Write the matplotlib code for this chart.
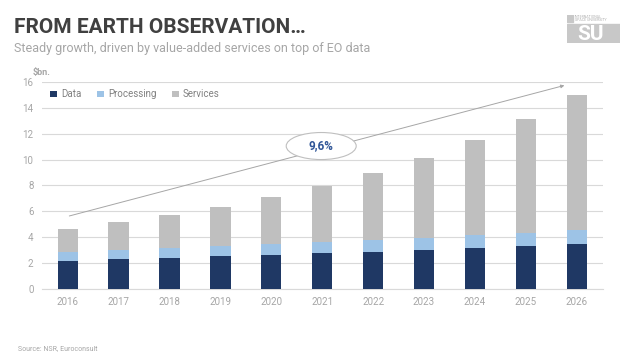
import numpy as np
import matplotlib
matplotlib.use("Agg")
import matplotlib.pyplot as plt
from matplotlib.patches import Ellipse, Rectangle

plt.rcParams['font.family'] = ['Roboto', 'DejaVu Sans']

# values ($bn.)
years = ['2016', '2017', '2018', '2019', '2020', '2021', '2022', '2023', '2024', '2025', '2026']
data = [2.19, 2.32, 2.42, 2.52, 2.65, 2.76, 2.88, 3.04, 3.19, 3.35, 3.50]
processing = [0.64, 0.69, 0.72, 0.78, 0.80, 0.85, 0.91, 0.93, 0.96, 0.98, 1.03]
services = [1.81, 2.14, 2.58, 3.04, 3.63, 4.32, 5.15, 6.15, 7.36, 8.81, 10.49]
cagr = '9,6%'

c_data = '#1F3864'
c_proc = '#9DC3E6'
c_serv = '#BFBFBF'
grey = '#A6A6A6'

fig = plt.figure(figsize=(6.38, 3.59), dpi=100)
ax = fig.add_axes([0.0654, 0.195, 0.8793, 0.5766])

x = np.arange(len(years))
d = np.array(data)
p = np.array(processing)
s = np.array(services)
ax.bar(x, d, 0.4, color=c_data, label='Data', zorder=3)
ax.bar(x, p, 0.4, bottom=d, color=c_proc, label='Processing', zorder=3)
ax.bar(x, s, 0.4, bottom=d + p, color=c_serv, label='Services', zorder=3)

ax.set_xlim(-0.51, 10.51)
ax.set_ylim(0, 16)
ax.set_yticks(np.arange(0, 17, 2))
ax.set_xticks(x)
ax.set_xticklabels(years)
ax.tick_params(axis='both', length=0, labelsize=7, labelcolor=grey)
ax.tick_params(axis='y', pad=6)
ax.tick_params(axis='x', pad=6)
ax.grid(axis='y', color='#D9D9D9', lw=0.8, zorder=0)
for sp in ['top', 'right', 'left']:
    ax.spines[sp].set_visible(False)
ax.spines['bottom'].set_color('#D9D9D9')

leg = ax.legend(loc='center left', bbox_to_anchor=(0.0, 0.94), ncol=3, frameon=False,
                fontsize=7, handlelength=0.7, handleheight=0.7, handletextpad=0.4,
                columnspacing=1.6)
for t in leg.get_texts():
    t.set_color('#808080')

# growth arrow + CAGR bubble
ax.annotate('', xy=(9.81, 15.79), xytext=(-0.02, 5.59),
            arrowprops=dict(arrowstyle='-|>', color=grey, lw=0.7, mutation_scale=5),
            annotation_clip=False, zorder=4)
ax.add_patch(Ellipse((4.98, 11.05), 1.375, 2.09, facecolor='white', edgecolor='#BFBFBF',
                     lw=0.8, zorder=5))
ax.text(4.98, 11.05, cagr, ha='center', va='center', fontsize=8.5, fontweight='bold',
        color='#2F5597', zorder=6)

# header
fig.text(14 / 638, 1 - 33 / 359, 'FROM EARTH OBSERVATION\u2026', fontsize=15, fontweight='bold',
         color='#404040', va='baseline')
fig.text(14 / 638, 1 - 52 / 359, 'Steady growth, driven by value-added services on top of EO data',
         fontsize=9, color=grey, va='baseline')
fig.text(33 / 638, 1 - 75 / 359, r'\$bn.', fontsize=6.5, fontweight='bold', color=grey, va='baseline')
fig.text(18 / 638, 1 - 350 / 359, 'Source: NSR, Euroconsult', fontsize=5, color=grey, va='baseline')

# logo
lx = fig.add_axes([567 / 638, 1 - 43 / 359, 53 / 638, 28 / 359])
lx.set_xlim(0, 53)
lx.set_ylim(28, 0)
lx.axis('off')
lx.add_patch(Rectangle((0, 0), 6, 7, color='#C8C8C8'))
lx.add_patch(Rectangle((0, 9), 53, 19, color='#C8C8C8'))
lx.text(8, 3.5, 'INTERNATIONAL\nSPACE UNIVERSITY', fontsize=2.6, color='#B0B0B0', va='center',
        linespacing=0.9)
lx.text(24, 19, 'SU', fontsize=15, fontweight='bold', color='white', ha='center', va='center')

fig.savefig('out.png', dpi=100)
